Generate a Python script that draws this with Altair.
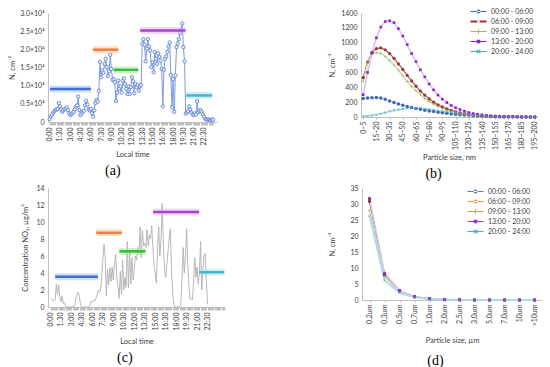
import altair as alt
import pandas as pd

FONT = "Lato"
TXT = "#404040"
AXC = "#bfbfbf"

# ---------------- shared labels ----------------
time_labels = ["0:00", "1:30", "3:00", "4:30", "6:00", "7:30", "9:00", "10:30",
               "12:00", "13:30", "15:00", "16:30", "18:00", "19:30", "21:00", "22:30"]
period_names = ["00:00 - 06:00", "06:00 - 09:00", "09:00 - 13:00",
                "13:00 - 20:00", "20:00 - 24:00"]
bar_colors = ["#3d6fd6", "#f07d3c", "#2fbf2f", "#a941d6", "#48b3d6"]
glow_colors = ["#a9c1f2", "#f8c6a6", "#a8e8a8", "#e2b9f3", "#b0e2f2"]

# ---------------- (a) particle number, 10-min steps ----------------
a_vals = [
    800, 1500, 1900, 2500, 2900, 3300, 3400, 3600, 5200, 4300,
    3500, 2800, 3200, 3500, 3700, 4000, 3300, 2400, 1900, 2200,
    2500, 2800, 3500, 4200, 4600, 7000, 3300, 1900, 2400, 2800,
    3100, 4600, 5800, 4800, 3500, 3200, 3600, 2400, 1500, 3200,
    5200, 6100, 5600, 8600, 16500, 12300, 14200, 13500, 16000, 17400,
    15100, 12600, 13900, 18500, 14600, 11600, 11800, 10900, 5800, 8100,
    11400, 9100, 9800, 8100, 11400, 12000, 10500, 9100, 7700, 9800,
    7700, 9600, 12300, 11200, 7900, 10500, 9600, 10200, 8600, 9800,
    10200, 21600, 22800, 21300, 16700, 20200, 22800, 20800, 19700, 15100,
    16500, 13700, 19300, 17400, 16000, 18900, 17900, 16900, 14600, 4300,
    14400, 17400, 18100, 19300, 20800, 21900, 12900, 4000, 11800, 2800,
    12800, 20600, 21600, 22800, 24400, 25300, 27100, 20600, 16700, 2300,
    2600, 3000, 4300, 3500, 2600, 2100, 1900, 2400, 2100, 5700,
    2600, 3000, 3300, 2800, 2100, 1500, 900, 700, 600, 700,
    600, 500, 700, 600]
a_bar_start = [0.05, 6.33, 9.33, 13.2, 19.9]
a_bar_end = [6.0, 10.0, 12.9, 19.8, 23.7]
a_bar_val = [9100, 19900, 14350, 25200, 7300]
a_yticks = [0, 5000, 10000, 15000, 20000, 25000, 30000]

# ---------------- (c) NO2, 10-min steps ----------------
c_vals = [
    1.0, 0.9, 0.8, 0.7, 0.9, 2.7, 1.5, 2.6, 1.2, 0.6,
    1.3, 0.4, 0.5, 0.1, 0, 0, 0, 0, 0, 0,
    0, 0.3, 1.2, 1.6, 1.7, 1.0, 0.2, 0, 0, 0,
    0, 0, 0, 0, 0.3, 0.7, 0.6, 0.8, 0.7, 1.0,
    1.4, 2.0, 1.7, 1.9, 3.5, 5.5, 7.4, 5.8, 1.3, 4.4,
    2.6, 4.6, 3.0, 4.7, 3.2, 5.0, 6.2, 3.5, 2.5, 1.0,
    4.2, 1.5, 5.5, 2.0, 3.5, 2.3, 7.7, 2.3, 6.5, 2.7,
    5.8, 3.2, 4.5, 6.0, 5.5, 7.0, 6.2, 9.4, 5.8, 9.0,
    7.2, 7.5, 7.0, 9.1, 7.2, 8.5, 8.0, 9.6, 7.0, 4.8,
    4.0, 2.8, 7.0, 9.4, 6.0, 8.0, 12.2, 7.5, 4.5, 3.5,
    5.0, 6.5, 8.0, 9.2, 4.5, 1.5, 0.3, 0, 0, 0,
    0, 0, 0.5, 3.0, 7.0, 4.0, 6.0, 9.2, 5.0, 2.5,
    0.9, 1.0, 0.8, 3.0, 5.8, 3.5, 4.7, 2.7, 4.0, 7.7,
    2.0, 4.5, 6.1, 6.3, 3.0, 0.3]
c_bar_start = [0.67, 6.55, 9.87, 14.7, 21.3]
c_bar_end = [6.8, 10.2, 13.6, 21.3, 24.9]
c_bar_val = [3.57, 8.73, 6.55, 11.19, 4.09]
c_yticks = [0, 2, 4, 6, 8, 10, 12, 14]

# ---------------- (b) size distribution, nm ----------------
sizes_b = ["0~5", "5~10", "10~15", "15~20", "20~25", "25~30", "30~35", "35~40",
           "40~45", "45~50", "50~55", "55~60", "60~65", "65~70", "70~75", "75~80",
           "80~85", "85~90", "90~95", "95~100", "100~105", "105~110", "110~115",
           "115~120", "120~125", "125~130", "130~135", "135~140", "140~145",
           "145~150", "150~155", "155~160", "160~165", "165~170", "170~175",
           "175~180", "180~185", "185~190", "190~195", "195~200"]
b_blue = [250, 255, 260, 262, 255, 240, 215, 195, 175, 158, 142, 128, 115, 103, 92, 82,
          73, 64, 56, 49, 42, 36, 31, 26, 22, 18, 15, 12, 10, 8, 6, 5, 4, 3, 2, 2, 1, 1, 1, 0]
b_orange = [530, 740, 870, 920, 930, 905, 855, 790, 715, 640, 560, 485, 415, 350, 295, 245,
            200, 165, 135, 110, 88, 70, 55, 43, 34, 26, 20, 15, 11, 8, 6, 4, 3, 2, 2, 1, 1, 1, 0, 0]
b_green = [480, 730, 850, 865, 855, 815, 760, 700, 630, 555, 480, 415, 355, 300, 250, 210,
           172, 140, 115, 93, 75, 60, 47, 37, 29, 22, 17, 13, 10, 7, 5, 4, 3, 2, 1, 1, 1, 0, 0, 0]
b_purple = [300, 600, 860, 1065, 1210, 1285, 1295, 1270, 1190, 1090, 975, 855, 745, 635, 540,
            445, 365, 295, 240, 195, 155, 125, 100, 78, 60, 47, 37, 29, 22, 17, 13, 10, 8, 6,
            5, 4, 3, 2, 2, 1]
b_cyan = [10, 15, 22, 32, 45, 60, 75, 88, 100, 110, 117, 120, 119, 116, 110, 103, 95, 86, 77,
          68, 60, 52, 44, 37, 31, 26, 21, 17, 14, 11, 9, 7, 5, 4, 3, 2, 2, 1, 1, 1]
b_yticks = [0, 200, 400, 600, 800, 1000, 1200, 1400]

# ---------------- (d) size distribution, um ----------------
sizes_d = ["0,2um", "0,3um", "0,5um", "0,7um", "1,0um", "2,0um", "2,5um", "3,0um",
           "5,0um", "7,0um", "10um", ">10um"]
d_blue = [31.3, 7.9, 2.8, 1.0, 0.4, 0.15, 0.05, 0.03, 0.02, 0.01, 0.01, 0.01]
d_orange = [30.8, 7.8, 2.9, 1.0, 0.4, 0.15, 0.05, 0.03, 0.02, 0.01, 0.01, 0.01]
d_green = [28.0, 7.4, 2.6, 0.9, 0.35, 0.13, 0.04, 0.03, 0.02, 0.01, 0.01, 0.01]
d_purple = [31.8, 8.4, 3.0, 1.1, 0.45, 0.18, 0.06, 0.04, 0.02, 0.02, 0.01, 0.01]
d_cyan = [26.3, 6.2, 2.2, 0.8, 0.3, 0.1, 0.04, 0.02, 0.01, 0.01, 0.01, 0.01]
d_yticks = [0, 5, 10, 15, 20, 25, 30, 35]

# ---------------- marker shapes ----------------
P_CIRCLE = "circle"
P_SQUARE = "square"
P_PLUS = "M-1,-0.22H-0.22V-1H0.22V-0.22H1V0.22H0.22V1H-0.22V0.22H-1Z"
P_X = "M-1,-0.7L-0.7,-1L0,-0.3L0.7,-1L1,-0.7L0.3,0L1,0.7L0.7,1L0,0.3L-0.7,1L-1,0.7L-0.3,0Z"


def leg_path(marker, thick=0.22):
    line = "M-3.2,-%s H3.2 V%s H-3.2Z" % (thick, thick)
    if marker == "circle":
        m = "M-0.8,0A0.8,0.8 0 1,0 0.8,0A0.8,0.8 0 1,0 -0.8,0Z"
    elif marker == "small":
        m = "M-0.55,0A0.55,0.55 0 1,0 0.55,0A0.55,0.55 0 1,0 -0.55,0Z"
    elif marker == "square":
        m = "M-0.7,-0.7H0.7V0.7H-0.7Z"
    elif marker == "plus":
        m = "M-0.9,-0.2H-0.2V-0.9H0.2V-0.2H0.9V0.2H0.2V0.9H-0.2V0.2H-0.9Z"
    else:
        m = "M-0.9,-0.6L-0.6,-0.9L0,-0.3L0.6,-0.9L0.9,-0.6L0.3,0L0.9,0.6L0.6,0.9L0,0.3L-0.6,0.9L-0.9,0.6L-0.3,0Z"
    return line + m


def js_list(items):
    return "[" + ",".join("'%s'" % t for t in items) + "]"


def time_axis(n_ticks, tpad):
    vals = [i / 6 for i in range(n_ticks)]
    expr = ("(datum.value < 23 && abs(datum.value / 1.5 - round(datum.value / 1.5)) < 0.01) ? "
            + js_list(time_labels) + "[round(datum.value / 1.5)] : ''")
    return alt.Axis(values=vals, labelExpr=expr, labelAngle=-90, title="Local time",
                    tickSize=3, labelOverlap=False, labelFlush=False, labelPadding=2,
                    titlePadding=tpad)


def bars(starts, ends, vals, xsc, ysc, xax, yax):
    df = pd.DataFrame({"s": starts, "e": ends, "v": vals, "c": bar_colors, "g": glow_colors})
    base = alt.Chart(df)
    enc = dict(x=alt.X("s:Q", scale=xsc, axis=xax), x2="e:Q",
               y=alt.Y("v:Q", scale=ysc, axis=yax))
    glow = base.mark_rule(strokeWidth=7, opacity=0.55).encode(
        color=alt.Color("g:N", scale=None), **enc)
    core = base.mark_rule(strokeWidth=2.5).encode(
        color=alt.Color("c:N", scale=None), **enc)
    return glow + core


# ---------------- chart (a) ----------------
df_a = pd.DataFrame({"h": [i / 6 for i in range(len(a_vals))], "N": a_vals})
xa_sc = alt.Scale(domain=[-0.24, 24.4], nice=False, zero=False)
ya_sc = alt.Scale(domain=[0, 30000], nice=False)
xa_ax = time_axis(144, 6)
ya_ax = alt.Axis(values=a_yticks, ticks=False, labelPadding=4, titlePadding=3,
                 title="N, cm⁻³",
                 labelExpr="datum.value == 0 ? '0' : format(datum.value / 10000, '.1f') + '×10⁴'")
a_line = alt.Chart(df_a).mark_line(color="#7d9be0", strokeWidth=1).encode(
    x=alt.X("h:Q", scale=xa_sc, axis=xa_ax), y=alt.Y("N:Q", scale=ya_sc, axis=ya_ax))
a_pts = alt.Chart(df_a).mark_point(shape="circle", filled=True, fill="#eef2fb",
                                   stroke="#5f82cf", strokeWidth=0.9, size=11,
                                   opacity=1).encode(
    x=alt.X("h:Q", scale=xa_sc, axis=xa_ax), y=alt.Y("N:Q", scale=ya_sc, axis=ya_ax))
chart_a = alt.layer(a_line, a_pts,
                    bars(a_bar_start, a_bar_end, a_bar_val, xa_sc, ya_sc, xa_ax, ya_ax)
                    ).properties(width=169, height=109,
                                 title=alt.TitleParams("(a)", orient="bottom", frame="bounds",
                                                       anchor="middle", offset=6))

# ---------------- chart (c) ----------------
df_c = pd.DataFrame({"h": [i / 6 for i in range(len(c_vals))], "C": c_vals})
xc_sc = alt.Scale(domain=[-0.36, 25.0], nice=False, zero=False)
yc_sc = alt.Scale(domain=[0, 14], nice=False)
xc_ax = time_axis(150, 8)
yc_ax = alt.Axis(values=c_yticks, ticks=False, labelPadding=4, titlePadding=6,
                 title="Concentration  NO₂, µg/m³")
c_line = alt.Chart(df_c).mark_line(color="#b0b0b0", strokeWidth=0.9).encode(
    x=alt.X("h:Q", scale=xc_sc, axis=xc_ax), y=alt.Y("C:Q", scale=yc_sc, axis=yc_ax))
chart_c = alt.layer(c_line,
                    bars(c_bar_start, c_bar_end, c_bar_val, xc_sc, yc_sc, xc_ax, yc_ax)
                    ).properties(width=177, height=119,
                                 title=alt.TitleParams("(c)", orient="bottom", frame="bounds",
                                                       anchor="middle", offset=6))


# ---------------- distribution panels ----------------
def dist_panel(sizes, series_vals, yticks, ymax, line_colors, line_widths, mk_colors,
               mk_shapes, mk_sizes, leg_markers, leg_thick, xtitle, label_idx,
               w, h, title, legx, legy, tpad, ytpad, toff):
    rows = []
    for name, vals in zip(period_names, series_vals):
        for i, v in enumerate(vals):
            rows.append({"idx": i, "N": v, "series": name})
    df = pd.DataFrame(rows)
    n = len(sizes)
    xsc = alt.Scale(domain=[-0.5, n - 0.5], nice=False, zero=False)
    ysc = alt.Scale(domain=[0, ymax], nice=False)
    xax = alt.Axis(values=label_idx, labelAngle=-90, title=xtitle, tickSize=2,
                   labelPadding=2, titlePadding=tpad, labelOverlap=False, labelFlush=False,
                   labelExpr=js_list(sizes) + "[round(datum.value)]")
    yax = alt.Axis(values=yticks, ticks=False, labelPadding=4, titlePadding=ytpad,
                   title="N, cm⁻³", format="d")
    X = alt.X("idx:Q", scale=xsc, axis=xax)
    Y = alt.Y("N:Q", scale=ysc, axis=yax)
    dom = period_names
    line = alt.Chart(df).mark_line().encode(
        x=X, y=Y, detail="series:N",
        stroke=alt.Stroke("series:N", scale=alt.Scale(domain=dom, range=line_colors), legend=None),
        strokeWidth=alt.StrokeWidth("series:N", scale=alt.Scale(domain=dom, range=line_widths),
                                    legend=None))
    pts = alt.Chart(df).mark_point(filled=True, opacity=1).encode(
        x=X, y=Y,
        color=alt.Color("series:N", scale=alt.Scale(domain=dom, range=mk_colors), legend=None),
        shape=alt.Shape("series:N", scale=alt.Scale(domain=dom, range=mk_shapes), legend=None),
        size=alt.Size("series:N", scale=alt.Scale(domain=dom, range=mk_sizes), legend=None))
    leg_df = pd.DataFrame({"series": period_names, "idx": [0] * 5, "N": [0] * 5})
    leg = dict(orient="none", legendX=legx, legendY=legy, title=None, symbolSize=25,
               labelOffset=9, rowPadding=2, labelFont=FONT, labelFontSize=7,
               labelColor=TXT, symbolStrokeWidth=0, symbolOpacity=1, padding=0)
    paths = [leg_path(m, t) for m, t in zip(leg_markers, leg_thick)]
    dummy = alt.Chart(leg_df).mark_point(filled=True, opacity=0).encode(
        x=X, y=Y,
        shape=alt.Shape("series:N", scale=alt.Scale(domain=dom, range=paths),
                        legend=alt.Legend(**leg)),
        fill=alt.Fill("series:N", scale=alt.Scale(domain=dom, range=mk_colors),
                      legend=alt.Legend(**leg)))
    return alt.layer(line, pts, dummy).resolve_scale(
        shape="independent", fill="independent").properties(
        width=w, height=h,
        title=alt.TitleParams(title, orient="bottom", frame="bounds", anchor="middle",
                              offset=toff))


chart_b = dist_panel(
    sizes_b, [b_blue, b_orange, b_green, b_purple, b_cyan], b_yticks, 1400,
    ["#a3b9de", "#c0504d", "#c9dca6", "#dcc0f0", "#acdce9"], [1, 1.8, 1, 1, 1],
    ["#3f64b0", "#953735", "#9bbb59", "#8b1fd6", "#4bacc6"],
    [P_CIRCLE, P_CIRCLE, P_PLUS, P_SQUARE, P_X], [12, 5, 16, 15, 14],
    ["circle", "small", "plus", "square", "x"], [0.2, 0.4, 0.2, 0.2, 0.2],
    "Particle size, nm", list(range(0, 40, 3)), 176, 104, "(b)", 114, -5, 4, 4, 6)

chart_d = dist_panel(
    sizes_d, [d_blue, d_orange, d_green, d_purple, d_cyan], d_yticks, 35,
    ["#4f81bd", "#f79646", "#9bbb59", "#a33cdb", "#4bacc6"], [1, 1, 1, 1, 1],
    ["#4f81bd", "#f79646", "#9bbb59", "#9b30d9", "#4bacc6"],
    [P_CIRCLE, P_CIRCLE, P_PLUS, P_SQUARE, P_X], [10, 12, 12, 14, 12],
    ["circle", "circle", "plus", "square", "x"], [0.2, 0.2, 0.2, 0.2, 0.2],
    "Particle size, µm", list(range(12)), 180, 112, "(d)", 110, 0, 11, 13, 10)

chart = alt.concat(chart_a, chart_b, chart_c, chart_d, columns=2, align="none",
                   spacing={"row": 3, "column": 100}).properties(
    padding={"left": 0, "top": 0, "right": 0, "bottom": 0}
).configure_view(stroke=None).configure_axis(
    labelFont=FONT, titleFont=FONT, labelFontSize=7, titleFontSize=7.5,
    labelColor=TXT, titleColor=TXT, titleFontWeight="normal", grid=False,
    domainColor=AXC, tickColor=AXC
).configure_title(
    font="Liberation Serif", fontSize=14, fontWeight="normal", color="#000000"
).configure_legend(labelFont=FONT, labelFontSize=7, labelColor=TXT)

chart.save("out.html", embed_options={"renderer": "svg", "actions": False})
